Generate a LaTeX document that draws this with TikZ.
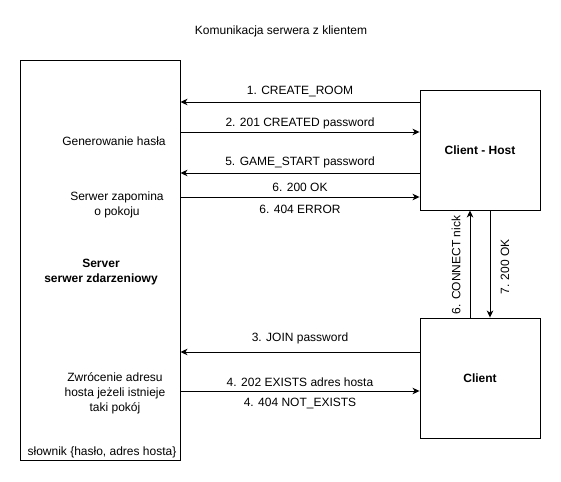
\documentclass[tikz,border=0pt]{standalone}
\usepackage{fontspec}
\setmainfont{Liberation Sans}
\usetikzlibrary{arrows.meta}
\begin{document}
\begin{tikzpicture}[x=1pt,y=-1pt,
  box/.style={draw,line width=0.9pt,fill=white,inner sep=0pt},
  arr/.style={line width=0.9pt,-{Stealth[length=7pt,width=6.5pt,inset=2pt]}},
  lbl/.style={font=\fontsize{12}{14}\selectfont,inner sep=0pt,align=center},
  every node/.style={font=\fontsize{12}{14}\selectfont}]
\useasboundingbox (0,0) rectangle (561,481);
\node[lbl] (title) at (281,31) {Komunikacja serwera z klientem};
\node[box,minimum width=160pt,minimum height=400pt] (server) at (100,260) {};
\node[box,minimum width=120pt,minimum height=120pt,font=\fontsize{12}{14}\selectfont\bfseries] (host) at (480,150) {Client - Host};
\node[box,minimum width=120pt,minimum height=120pt,font=\fontsize{12}{14}\selectfont\bfseries] (client) at (480,378) {Client};
% server texts
\node[lbl] (t1) at (114,141) {Generowanie hasła};
\node[lbl,font=\fontsize{12}{15}\selectfont] (t2) at (117,205) {Serwer zapomina\\o pokoju};
\node[lbl,font=\fontsize{12}{15}\selectfont\bfseries] (t3) at (101,272) {Server\\serwer zdarzeniowy};
\node[lbl,font=\fontsize{12}{15}\selectfont] (t4) at (115,393) {Zwrócenie adresu\\hosta jeżeli istnieje\\taki pokój};
\node[lbl] (t5) at (102,452) {słownik \{hasło, adres hosta\}};
% helper coordinates
\coordinate (y1) at (0,102);
\coordinate (y2) at (0,132);
\coordinate (y5) at (0,173);
\coordinate (y6) at (0,197);
\coordinate (y3) at (0,352);
\coordinate (y4) at (0,391);
\coordinate (xa) at (470,0);
\coordinate (xb) at (490,0);
% horizontal arrows
\draw[arr] (host.west |- y1) -- (server.east |- y1);
\draw[arr] (server.east |- y2) -- (host.west |- y2);
\draw[arr] (host.west |- y5) -- (server.east |- y5);
\draw[arr] (server.east |- y6) -- (host.west |- y6);
\draw[arr] (client.west |- y3) -- (server.east |- y3);
\draw[arr] (server.east |- y4) -- (client.west |- y4);
% vertical arrows
\draw[arr] (xa |- client.north) -- (xa |- host.south);
\draw[arr] (xb |- host.south) -- (xb |- client.north);
% labels
\node[lbl] (l1) at (300,92) {1. CREATE\_ROOM};
\node[lbl] (l2) at (300,123) {2. 201 CREATED password};
\node[lbl] (l5) at (300,162) {5. GAME\_START password};
\node[lbl] (l6) at (300,187) {6. 200 OK};
\node[lbl] (l6b) at (300,209) {6. 404 ERROR};
\node[lbl] (l3) at (300,338) {3. JOIN password};
\node[lbl] (l4) at (300,382) {4. 202 EXISTS adres hosta};
\node[lbl] (l4b) at (300,403) {4. 404 NOT\_EXISTS};
\node[lbl,rotate=90] (lc) at (456,265) {6. CONNECT nick};
\node[lbl,rotate=90] (lo) at (505,267) {7. 200 OK};
\end{tikzpicture}
\end{document}
